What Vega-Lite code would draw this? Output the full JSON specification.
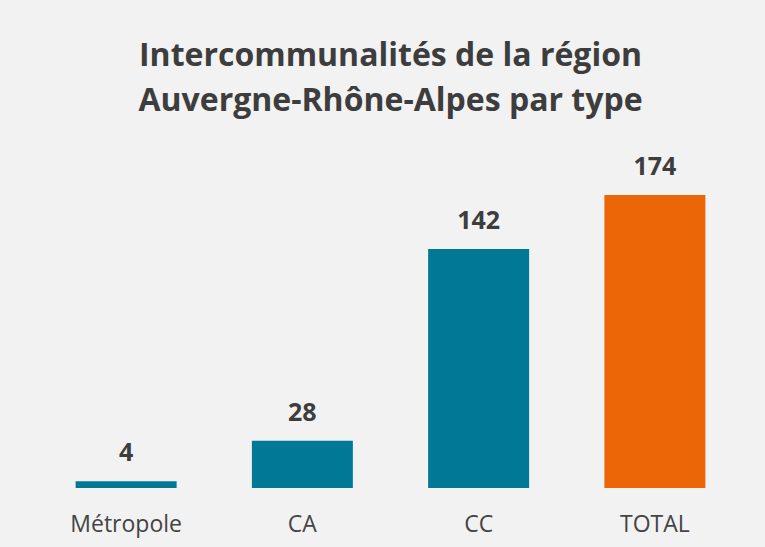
{
  "$schema": "https://vega.github.io/schema/vega-lite/v6.json",
  "autosize": {"type": "none"},
  "width": 705,
  "height": 293,
  "padding": {"left": 38, "top": 195, "right": 22, "bottom": 59},
  "background": "#f2f2f2",
  "config": {
    "view": {"stroke": null},
    "font": "Open Sans"
  },
  "title": {
    "text": ["Intercommunalités de la région", "Auvergne-Rhône-Alpes par type"],
    "font": "Open Sans",
    "fontSize": 32,
    "fontWeight": "bold",
    "color": "#3d3d3d",
    "anchor": "middle",
    "baseline": "alphabetic",
    "lineHeight": 45,
    "offset": 12
  },
  "data": {
    "values": [
      {"type": "Métropole", "value": 4, "group": "detail"},
      {"type": "CA", "value": 28, "group": "detail"},
      {"type": "CC", "value": 142, "group": "detail"},
      {"type": "TOTAL", "value": 174, "group": "total"}
    ]
  },
  "encoding": {
    "x": {
      "field": "type",
      "type": "nominal",
      "sort": null,
      "scale": {"paddingInner": 0.427, "paddingOuter": 0.2135},
      "axis": {
        "title": null,
        "domain": false,
        "ticks": false,
        "labelAngle": 0,
        "labelFont": "Open Sans",
        "labelFontSize": 23,
        "labelColor": "#444444",
        "labelBaseline": "alphabetic",
        "labelPadding": 43
      }
    },
    "y": {
      "field": "value",
      "type": "quantitative",
      "scale": {"domain": [0, 174], "nice": false},
      "axis": null
    }
  },
  "layer": [
    {
      "mark": {"type": "bar"},
      "encoding": {
        "color": {
          "field": "group",
          "type": "nominal",
          "scale": {"domain": ["detail", "total"], "range": ["#007896", "#ec6608"]},
          "legend": null
        }
      }
    },
    {
      "mark": {
        "type": "text",
        "dy": -20,
        "baseline": "alphabetic",
        "font": "Open Sans",
        "fontSize": 25,
        "fontWeight": "bold",
        "color": "#3d3d3d"
      },
      "encoding": {
        "text": {"field": "value", "type": "quantitative"}
      }
    }
  ]
}
